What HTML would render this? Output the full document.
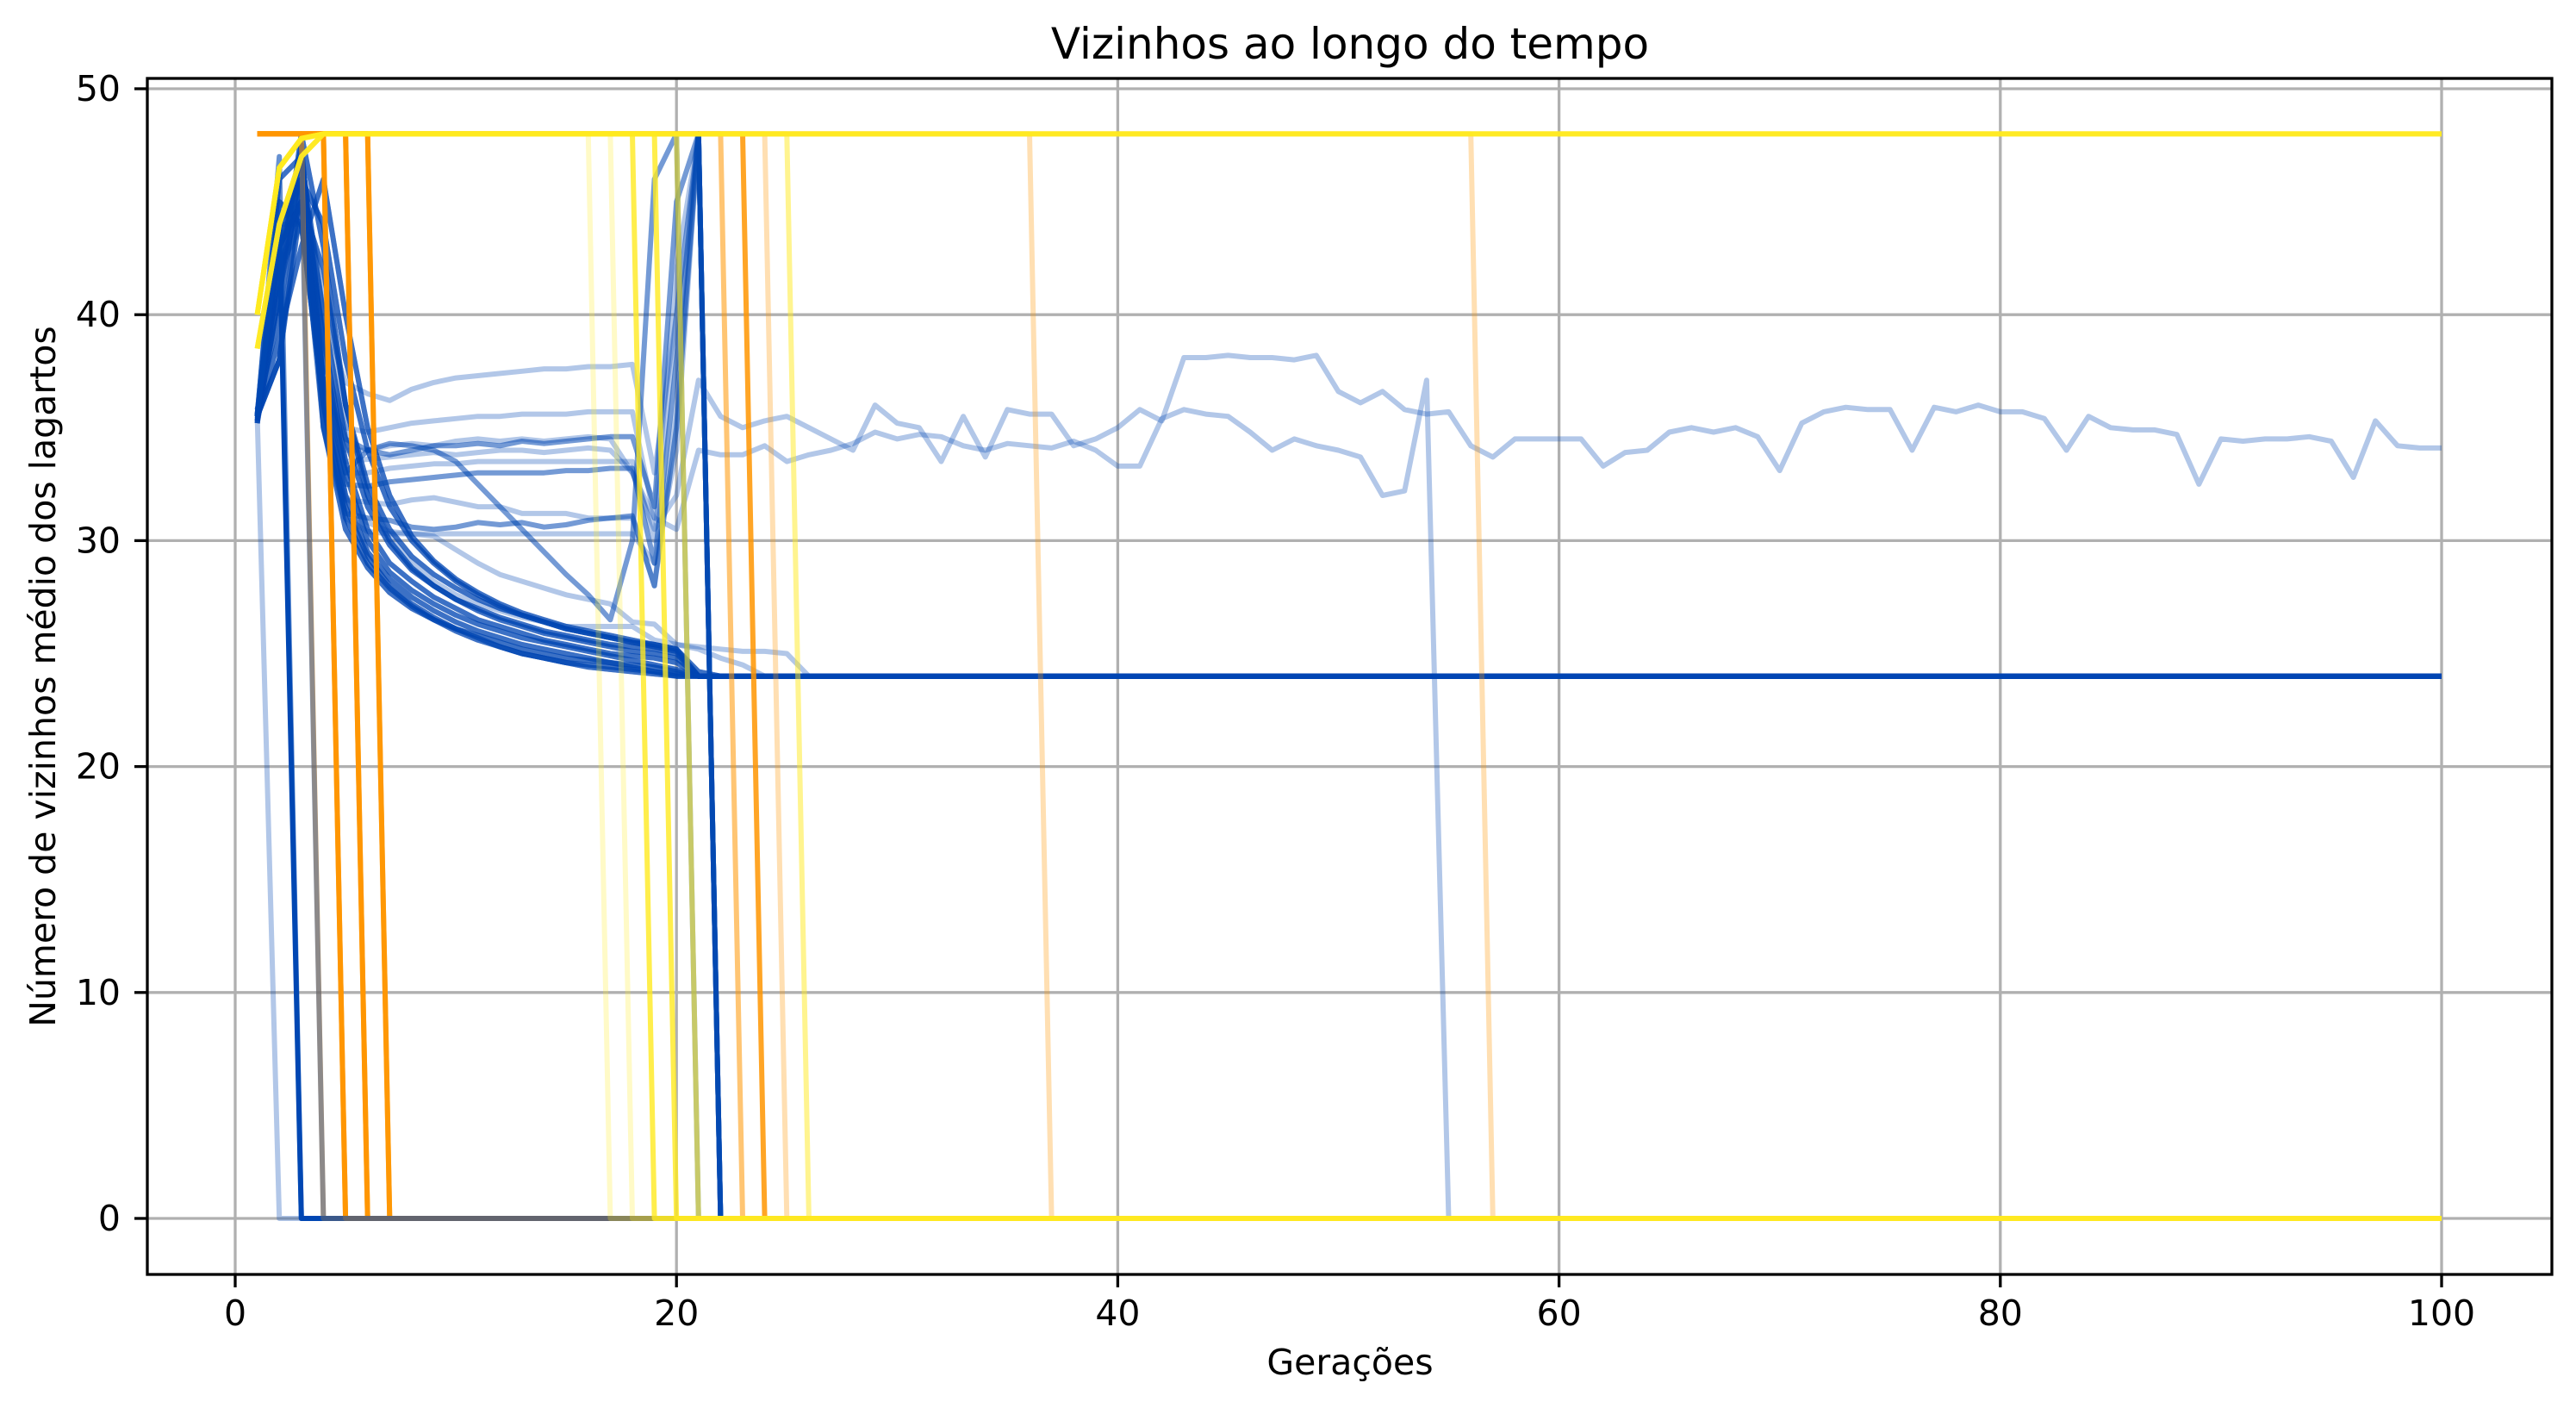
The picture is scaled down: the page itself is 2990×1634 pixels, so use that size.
<!DOCTYPE html>
<html><head><meta charset="utf-8"><style>
html,body{margin:0;padding:0;background:#fff;}
svg{display:block;font-family:"DejaVu Sans","Liberation Sans",sans-serif;}
</style></head><body>
<svg id="chart" width="2990" height="1634" viewBox="0 0 2990 1634" xmlns="http://www.w3.org/2000/svg">
<rect x="0" y="0" width="2990" height="1634" fill="#fff"/>
<g id="grid"></g>
<g id="plot"></g>
<g id="axes"></g>
<text x="1567" y="51" font-size="50" text-anchor="middle" dominant-baseline="central">Vizinhos ao longo do tempo</text>
<text x="1567" y="1581" font-size="41" text-anchor="middle" dominant-baseline="central">Gerações</text>
<text x="50" y="785" font-size="41" text-anchor="middle" dominant-baseline="central" transform="rotate(-90 50 785)">Número de vizinhos médio dos lagartos</text>
</svg>
<script>
// ---- data ----
const xTicks = [0, 20, 40, 60, 80, 100];
const yTicks = [0, 10, 20, 30, 40, 50];
const maxGen = 100;
// blue series converging to 24
const d1 = [35.5,42,47.5,37,32,29.5,28.3,27.5,26.9,26.4,26,25.7,25.4,25.2,25,24.8,24.6,24.4,24.2,24,24];
const d2 = [35.3,44,46,39,33.5,30.5,29,28.2,27.5,27,26.5,26.2,25.9,25.6,25.4,25.2,25,24.9,24.8,24.6,24];
const d3 = [35.8,40,47,40,34.5,31.5,29.8,28.7,28,27.4,27,26.6,26.3,26,25.8,25.6,25.4,25.3,25.2,25,24];
const d4 = [35.5,38,45,42,36,32.5,30.5,29.3,28.5,27.9,27.4,27,26.7,26.4,26.1,25.9,25.7,25.5,25.4,25.2,24.2,24];
const d5 = [35.2,41,46,36,31.5,29.3,28,27.2,26.6,26.1,25.7,25.3,25,24.8,24.6,24.4,24.3,24.2,24.1,24,24];
const d6 = [35.6,43,47,38.5,33,30,28.6,27.8,27.2,26.7,26.3,26,25.7,25.5,25.3,25.1,24.9,24.7,24.5,24.3,24];
const e1 = [35.5,38,46,44,38,34,31.5,30,29,28.2,27.6,27.1,26.7,26.4,26.1,25.9,25.7,25.5,25.3,25.1,24];
const e2 = [35.2,45,44,36,31,29,27.9,27.1,26.5,26,25.6,25.3,25,24.8,24.6,24.5,24.4,24.3,24.2,24.1,24];
const e3 = [35.4,39,43,46,40,35,32,30.2,29.1,28.3,27.7,27.2,26.8,26.5,26.2,26,25.8,25.6,25.4,25.2,24];
const e4 = [35.6,46,47,35,30.5,28.8,27.7,27,26.5,26.1,25.8,25.5,25.2,25,24.8,24.7,24.6,24.5,24.4,24.2,24];
const e5 = [35.3,41,48,43,36,32,30,28.8,28,27.4,26.9,26.5,26.2,25.9,25.7,25.5,25.3,25.1,25,24.8,24];
const d7 = [35.5,44,46,41,35,32,30.2,29,28.2,27.6,27.2,26.9,26.6,26.4,26.2,26.2,26.2,26.2,25.6,25.4,25.3,25.2,25.1,25.1,25,24];
const d8 = [35.5,42,45,37,32,30.8,30.4,30.3,30.2,29.6,29,28.5,28.2,27.9,27.6,27.4,27.2,26.4,26.3,25.4,25.2,24.8,24.5,24];
// blue plateau series rising to 48 then dropping to 0
const p1 = [35.5,44,46,40,37,36.5,36.2,36.7,37,37.2,37.3,37.4,37.5,37.6,37.6,37.7,37.7,37.8,33,40,48,0];
const p2 = [35.5,44,45,38,35,34.8,35,35.2,35.3,35.4,35.5,35.5,35.6,35.6,35.6,35.7,35.7,35.7,31,42,48,0];
const p3 = [35.5,44,44,37,34.5,34,33.8,34,34.2,34.2,34.3,34.2,34.4,34.3,34.4,34.5,34.6,34.6,31.5,45,48,0];
const p4 = [35.5,42,45,37,33,33,33.2,33.3,33.4,33.4,33.5,33.5,33.5,33.5,33.5,33.5,33.5,33.5,30,40,48,0];
const p5 = [35.5,42,44,36,32.5,32.4,32.6,32.7,32.8,32.9,33,33,33,33,33.1,33.1,33.2,33.2,29,38,48,0];
const p6 = [35.5,43,45,36,31.8,31.7,31.6,31.8,31.9,31.7,31.5,31.5,31.2,31.2,31.2,31,31,31,28,36,48,0];
const p7 = [35.5,43,45,35,31.2,31,30.9,30.6,30.5,30.6,30.8,30.7,30.8,30.6,30.7,30.9,31,31.1,28,35,48,0];
const p8 = [35.5,43,45,35,31,30.4,30.3,30.3,30.3,30.3,30.3,30.3,30.3,30.3,30.3,30.3,30.3,30.3,29,34,48,0];
const p9 = [35.5,43,46,37,33,34,34.3,34.2,34,33.5,32.5,31.5,30.5,29.5,28.5,27.6,26.5,30,46,48,0];
// long fluctuating blue series
const L1 = [35.5,42,45,37,34,34,34.2,34.3,34.2,34.4,34.5,34.4,34.5,34.4,34.5,34.6,34.5,33,30.5,32,
 37.1,35.5,35,35.3,35.5,35,34.5,34,36,35.2,35,33.5,35.5,33.7,35.8,35.6,35.6,34.2,34.5,35,
 35.8,35.3,38.1,38.1,38.2,38.1,38.1,38,38.2,36.6,36.1,36.6,35.8,35.6,35.7,34.2,33.7,34.5,34.5,34.5,
 34.5,33.3,33.9,34,34.8,35,34.8,35,34.6,33.1,35.2,35.7,35.9,35.8,35.8,34,35.9,35.7,36,35.7,
 35.7,35.4,34,35.5,35,34.9,34.9,34.7,32.5,34.5,34.4,34.5,34.5,34.6,34.4,32.8,35.3,34.2,34.1,34.1];
const L2 = [35.5,43,45,37,33.5,33.6,33.7,33.8,33.9,33.8,33.9,34,34,33.9,34,34.1,34,33,31,30.5,
 34,33.8,33.8,34.2,33.5,33.8,34,34.3,34.8,34.5,34.7,34.6,34.2,34,34.3,34.2,34.1,34.4,34,33.3,
 33.3,35.4,35.8,35.6,35.5,34.8,34,34.5,34.2,34,33.7,32,32.2,37.1,0];
// early-dropping blue series
const b2 = [35.5,0];
const b3 = [35.5,44,0];
const b3b = [35.5,47,0];
const b4 = [35.5,44,47,0];
// orange series: generation of drop to 0
const orangeDrops = [4,5,5,6,6,7,7,23,24,25,37,57];
const orangeAlpha = [0.6,0.9,0.9,0.9,0.9,0.85,0.85,0.55,0.85,0.3,0.3,0.3];
// yellow series: generation of drop (101 = never)
const yellowDrops = [17,18,19,20,21,26,101,101,101];
const yellowAlpha = [0.25,0.25,0.8,0.8,0.6,0.5,0.9,0.6,0.3];
const yellowStart = [40,46.5,47.8,48];
const yellowStartB = [38.5,44,47,48];

// ---- scales ----
const X = g => 273 + g * 25.61;
const Y = v => 1414 - v * 26.22;
const NS = 'http://www.w3.org/2000/svg';
const plot = document.getElementById('plot');
const grid = document.getElementById('grid');
const axes = document.getElementById('axes');

function mk(tag, attrs, parent) {
  const e = document.createElementNS(NS, tag);
  for (const k in attrs) e.setAttribute(k, attrs[k]);
  parent.appendChild(e);
  return e;
}
function drawSeries(vals, color, alpha, name, gens) {
  const pts = vals.map((v, i) => [gens ? gens[i] : i + 1, v]);
  const last = pts[pts.length - 1];
  if (last[0] < maxGen) pts.push([maxGen, last[1]]);
  const p = mk('polyline', {points: pts.map(q => X(q[0]).toFixed(1) + ',' + Y(q[1]).toFixed(1)).join(' '),
    fill: 'none', stroke: color, 'stroke-opacity': alpha, 'stroke-width': 6, 'stroke-linejoin': 'round', 'stroke-linecap': 'butt'}, plot);
  
  
}

// grid
xTicks.forEach(t => {
  const l = mk('line', {x1: X(t), x2: X(t), y1: 91, y2: 1479, stroke: '#b0b0b0', 'stroke-width': 3.3}, grid);
  
  
});
yTicks.forEach(t => {
  const l = mk('line', {x1: 171, x2: 2962, y1: Y(t), y2: Y(t), stroke: '#b0b0b0', 'stroke-width': 3.3}, grid);
  
  
});

const BLUE = '#0047b3', ORANGE = '#ff9500', YELLOW = '#ffea1f';
// blue
[d1,d2,d3,d4,d5,d6,e1,e2,e3,e4,e5].forEach(s => { for (let r = 0; r < 4; r++) drawSeries(s, BLUE, 0.3, 'blue-decay-series'); });
drawSeries(d7, BLUE, 0.3, 'blue-decay-series');
drawSeries(d8, BLUE, 0.3, 'blue-decay-series');
[p1,p2,p3,p4,p5,p6,p7,p8,p9].forEach(s => drawSeries(s, BLUE, 0.3, 'blue-plateau-series'));
[p3,p5,p7,p9].forEach(s => drawSeries(s, BLUE, 0.35, 'blue-plateau-series'));
drawSeries(L1, BLUE, 0.3, 'blue-long-series');
drawSeries(L2, BLUE, 0.3, 'blue-long-series');
drawSeries(b3, BLUE, 1.0, 'blue-drop-series');
drawSeries(b3b, BLUE, 0.6, 'blue-drop-series');
// orange
orangeDrops.forEach((g, i) => {
  drawSeries([48, 48, 0], ORANGE, orangeAlpha[i], 'orange-series', [1, g - 1, g]);
});
drawSeries(b2, BLUE, 0.3, 'blue-drop-series');
drawSeries(b4, BLUE, 0.45, 'blue-drop-series');
// yellow
yellowDrops.forEach((g, i) => {
  const vals = (i % 2 ? yellowStartB : yellowStart).slice();
  const gens = [1, 2, 3, 4];
  if (g <= maxGen) { vals.push(48, 0); gens.push(g - 1, g); }
  drawSeries(vals, YELLOW, yellowAlpha[i], 'yellow-series', gens);
});

// axes frame
const frame = mk('rect', {x: 171, y: 91, width: 2791, height: 1388, fill: 'none', stroke: '#000', 'stroke-width': 3.3}, axes);


xTicks.forEach(t => {
  const l = mk('line', {x1: X(t), x2: X(t), y1: 1479, y2: 1494, stroke: '#000', 'stroke-width': 3.3}, axes);
  
  
  const tx = mk('text', {x: X(t), y: 1524, 'font-size': 41, 'text-anchor': 'middle', 'dominant-baseline': 'central'}, axes);
  tx.textContent = t;
  
  
});
yTicks.forEach(t => {
  const l = mk('line', {x1: 156, x2: 171, y1: Y(t), y2: Y(t), stroke: '#000', 'stroke-width': 3.3}, axes);
  
  
  const tx = mk('text', {x: 140, y: Y(t), 'font-size': 41, 'text-anchor': 'end', 'dominant-baseline': 'central'}, axes);
  tx.textContent = t;
  
  
});
</script>
</body></html>
